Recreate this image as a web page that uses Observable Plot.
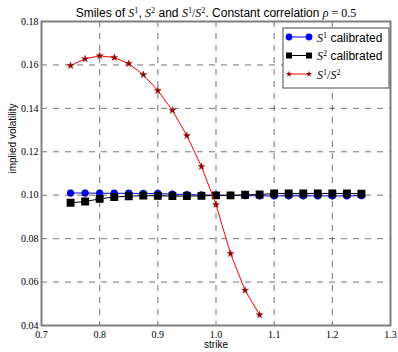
<!DOCTYPE html>
<html>
<head>
<meta charset="utf-8">
<script src="https://cdn.jsdelivr.net/npm/d3@7"></script>
<script src="https://cdn.jsdelivr.net/npm/@observablehq/plot@0.6"></script>
<style>
  body { margin: 0; background: #fff; }
  svg { display: block; }
  svg text.num-tick { font-family: "Liberation Serif", "DejaVu Serif", "Times New Roman", serif !important; }
</style>
</head>
<body>
<div id="chart"></div>
<script>
// Strike grid shared by the calibrated smiles
const strikes = [0.75, 0.775, 0.8, 0.825, 0.85, 0.875, 0.9, 0.925, 0.95, 0.975, 1.0,
                 1.025, 1.05, 1.075, 1.1, 1.125, 1.15, 1.175, 1.2, 1.225, 1.25];
// Implied volatility of S1 (calibrated)
const volS1 = [0.1010, 0.1010, 0.1009, 0.1009, 0.1009, 0.1008, 0.1008, 0.1005, 0.1003, 0.1001, 0.1000,
               0.0999, 0.0998, 0.0997, 0.0997, 0.0997, 0.0997, 0.0997, 0.0997, 0.0997, 0.0998];
// Implied volatility of S2 (calibrated)
const volS2 = [0.0965, 0.0971, 0.0983, 0.0992, 0.0995, 0.0998, 0.0997, 0.0996, 0.0996, 0.0997, 0.0999,
               0.0999, 0.1002, 0.1003, 0.1008, 0.1008, 0.1008, 0.1008, 0.1008, 0.1008, 0.1007];
// Implied volatility of the ratio S1/S2
const ratioStrikes = [0.75, 0.775, 0.8, 0.825, 0.85, 0.875, 0.9, 0.925, 0.95, 0.975, 1.0, 1.025, 1.05, 1.075];
const volRatio = [0.1597, 0.1628, 0.1642, 0.1634, 0.1606, 0.1555, 0.1482, 0.1391, 0.1274, 0.1132, 0.0957,
                  0.0731, 0.0562, 0.0449];

const xTicks = [0.7, 0.8, 0.9, 1.0, 1.1, 1.2, 1.3];
const yTicks = [0.04, 0.06, 0.08, 0.10, 0.12, 0.14, 0.16, 0.18];

const rowsS1 = strikes.map((k, i) => ({strike: k, vol: volS1[i]}));
const rowsS2 = strikes.map((k, i) => ({strike: k, vol: volS2[i]}));
const rowsRatio = ratioStrikes.map((k, i) => ({strike: k, vol: volRatio[i]}));

const SERIF = "'Liberation Serif', 'DejaVu Serif', 'Times New Roman', serif";
const SANS = "'Liberation Sans', Arial, sans-serif";
const gridStyle = {stroke: "#000", strokeOpacity: 0.55, strokeDasharray: "6,6", strokeWidth: 1};

const chart = Plot.plot({
  width: 398,
  height: 352,
  marginLeft: 41,
  marginRight: 8,
  marginTop: 21,
  marginBottom: 27,
  style: {background: "#fff", color: "#000"},
  x: {domain: [0.7, 1.3], label: null},
  y: {domain: [0.04, 0.18], label: null},
  marks: [
    Plot.gridX(xTicks.slice(1, -1), gridStyle),
    Plot.gridY(yTicks.slice(1, -1), gridStyle),
    Plot.axisX(xTicks, {tickSize: 0, tickPadding: 5, tickFormat: d => d.toFixed(1), fontSize: 10, label: null}),
    Plot.axisY(yTicks, {tickSize: 0, tickPadding: 3, tickFormat: d => d.toFixed(2), fontSize: 10, label: null}),
    Plot.line(rowsS1, {x: "strike", y: "vol", stroke: "#0000ff", strokeWidth: 1}),
    Plot.dot(rowsS1, {x: "strike", y: "vol", symbol: "circle", r: 3.4, fill: "#0000ff", stroke: "#000040", strokeWidth: 0.6}),
    Plot.line(rowsS2, {x: "strike", y: "vol", stroke: "#000", strokeWidth: 1}),
    Plot.dot(rowsS2, {x: "strike", y: "vol", symbol: "square", r: 3.6, fill: "#000", stroke: "#000"}),
    Plot.line(rowsRatio, {x: "strike", y: "vol", stroke: "#ff0000", strokeWidth: 1}),
    Plot.dot(rowsRatio, {x: "strike", y: "vol", symbol: "star", r: 2.2, fill: "#8b0000", stroke: "#8b0000", strokeWidth: 0.4}),
    Plot.frame({stroke: "#7f7f7f", strokeWidth: 2}),
    Plot.text(["strike"], {frameAnchor: "bottom", dy: 22, fontFamily: SANS, fontSize: 10}),
    Plot.text(["implied volatility"], {frameAnchor: "left", rotate: -90, dx: -29, fontFamily: SANS, fontSize: 10})
  ]
});

const svg = d3.select(chart);

// Numeric tick labels in a serif face
svg.selectAll("text")
  .filter(function () { return /^\s*\d\.\d+\s*$/.test(this.textContent); })
  .classed("num-tick", true)
  .attr("font-family", SERIF);

// Rich text helper: plain sans text, italic serif math and raised superscripts
function richText(g, segs) {
  const t = g.append("text").style("white-space", "pre");
  segs.forEach(s => {
    const sp = t.append("tspan").text(s.t);
    sp.style("font-family", s.m ? SERIF : SANS);
    if (s.i) sp.attr("font-style", "italic");
    if (s.sup) sp.attr("font-size", "0.68em").attr("baseline-shift", "4.5");
  });
  return t;
}
const S = n => [{t: "S", m: 1, i: 1}, {t: String(n), m: 1, sup: 1}];

// Title
const titleSegs = [
  {t: "Smiles of "}, ...S(1), {t: ", "}, ...S(2), {t: " and "},
  ...S(1), {t: "/", m: 1}, ...S(2), {t: ". Constant correlation "},
  {t: "\u03c1", m: 1, i: 1}, {t: " = 0.5", m: 1}
];
richText(svg.append("g"), titleSegs)
  .attr("x", 216).attr("y", 17).attr("text-anchor", "middle").attr("font-size", 12).attr("fill", "#000");

// Legend box
const leg = svg.append("g").attr("transform", "translate(283,28)");
leg.append("rect").attr("width", 106).attr("height", 60)
  .attr("fill", "#fff").attr("stroke", "#666").attr("stroke-width", 1.2);
const entries = [
  {color: "#0000ff", sym: d3.symbolCircle, size: 36, fill: "#0000ff", segs: [...S(1), {t: " calibrated"}]},
  {color: "#000", sym: d3.symbolSquare, size: 36, fill: "#000", segs: [...S(2), {t: " calibrated"}]},
  {color: "#ff0000", sym: d3.symbolStar, size: 12, fill: "#8b0000", segs: [...S(1), {t: "/", m: 1}, ...S(2)]}
];
entries.forEach((e, i) => {
  const y = 9 + i * 18.5;
  const row = leg.append("g").attr("transform", `translate(0,${y})`);
  row.append("line").attr("x1", 6).attr("x2", 26).attr("y1", 0).attr("y2", 0)
    .attr("stroke", e.color).attr("stroke-width", 1);
  [6, 26].forEach(x => row.append("path").attr("d", d3.symbol(e.sym, e.size)())
    .attr("transform", `translate(${x},0)`).attr("fill", e.fill));
  richText(row, e.segs).attr("x", 34).attr("y", 4.5).attr("text-anchor", "start")
    .attr("font-size", 12).attr("fill", "#000");
});

document.getElementById("chart").append(chart);
</script>
</body>
</html>
